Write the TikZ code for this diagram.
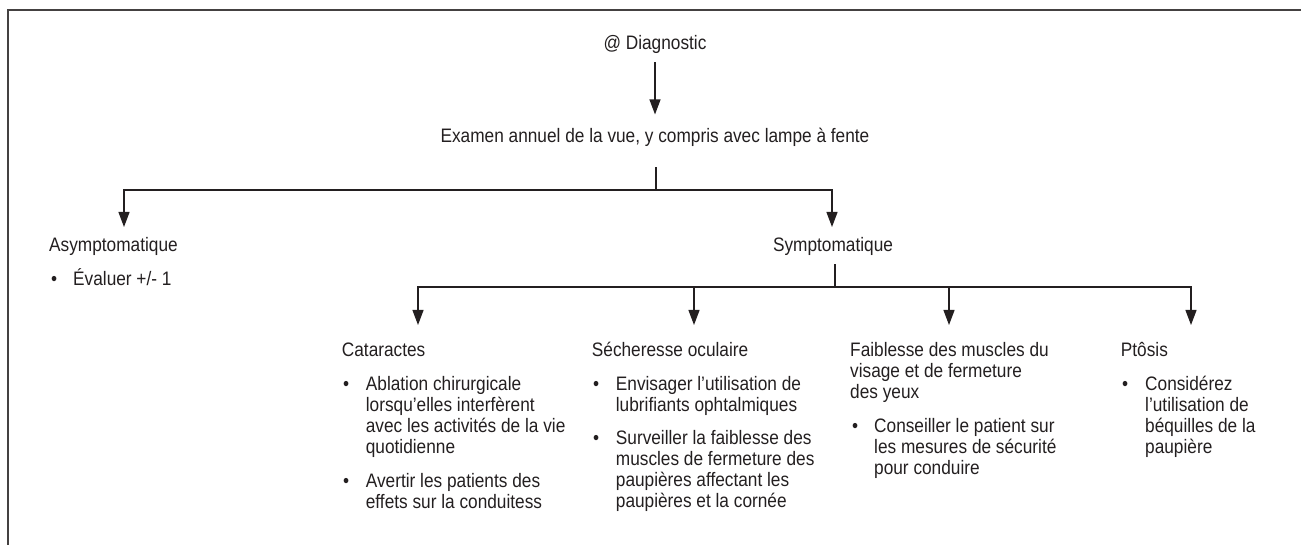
\documentclass[tikz,border=0pt]{standalone}
\usepackage{fontspec}
\setmainfont{Liberation Sans}[FakeStretch=0.885]
\usetikzlibrary{arrows.meta}
\definecolor{ink}{HTML}{231F20}
\begin{document}
\begin{tikzpicture}[x=1pt,y=-1pt,
  txt/.style={inner sep=0pt, text=ink, font=\fontsize{19.5}{21.2}\selectfont, align=left, anchor=base west},
  ctr/.style={txt, anchor=base, align=center},
  ln/.style={draw=ink, line width=1.2pt},
  arr/.style={ln, -{Triangle[length=15pt,width=11pt]}},
  frame/.style={draw=ink!85, line width=2pt}
]
\useasboundingbox (0,0) rectangle (1301,545);
\draw[frame] (7.5,545) -- (7.5,10) -- (1301,10);

% multi-line nodes are placed at the baseline of their LAST line
\node[ctr] (diag) at (655,50) {@ Diagnostic};
\node[ctr] (exam) at (655,143) {Examen annuel de la vue, y compris avec lampe à fente};

\node[txt] (asym) at (49,252) {Asymptomatique};
\node[txt] (asymb1) at (51,286) {•};
\node[txt] (asymt1) at (73,286) {Évaluer +/- 1};

\node[ctr] (sympt) at (833,252) {Symptomatique};

\node[txt] (cat) at (341.7,356) {Cataractes};
\node[txt] (catb1) at (343,390) {•};
\node[txt] (catt1) at (365.7,453.6) {Ablation chirurgicale\\lorsqu’elles interfèrent\\avec les activités de la vie\\quotidienne};
\node[txt] (catb2) at (343,487) {•};
\node[txt] (catt2) at (365.7,508.2) {Avertir les patients des\\effets sur la conduitess};

\node[txt] (sec) at (591.7,356) {Sécheresse oculaire};
\node[txt] (secb1) at (593,390) {•};
\node[txt] (sect1) at (615.7,411.2) {Envisager l’utilisation de\\lubrifiants ophtalmiques};
\node[txt] (secb2) at (593,444) {•};
\node[txt] (sect2) at (615.7,507.6) {Surveiller la faiblesse des\\muscles de fermeture des\\paupières affectant les\\paupières et la cornée};

\node[txt] (fai) at (850,398.4) {Faiblesse des muscles du\\visage et de fermeture\\des yeux};
\node[txt] (faib1) at (852,432) {•};
\node[txt] (fait1) at (874,474.4) {Conseiller le patient sur\\les mesures de sécurité\\pour conduire};

\node[txt] (pto) at (1120.7,356) {Ptôsis};
\node[txt] (ptob1) at (1122,390) {•};
\node[txt] (ptot1) at (1145,453.6) {Considérez\\l’utilisation de\\béquilles de la\\paupière};

% connectors
\draw[arr, shorten <=8pt, shorten >=14pt] (diag.south) -- (diag.south |- exam.north);

\coordinate (j1) at (656,190);
\coordinate (tA) at (124,227);
\coordinate (tS) at (832,227);
\draw[ln, shorten <=20pt] (exam.south -| j1) -- (j1);
\draw[arr] (j1) -| (tA);
\draw[arr] (j1) -| (tS);

\coordinate (j2) at (835,287);
\coordinate (t1) at (418,325);
\coordinate (t2) at (694,325);
\coordinate (t3) at (949,325);
\coordinate (t4) at (1191,325);
\draw[ln, shorten <=8pt] (sympt.south -| j2) -- (j2);
\draw[arr] (j2) -| (t1);
\draw[arr] (j2) -| (t2);
\draw[arr] (j2) -| (t3);
\draw[arr] (j2) -| (t4);
\end{tikzpicture}
\end{document}
